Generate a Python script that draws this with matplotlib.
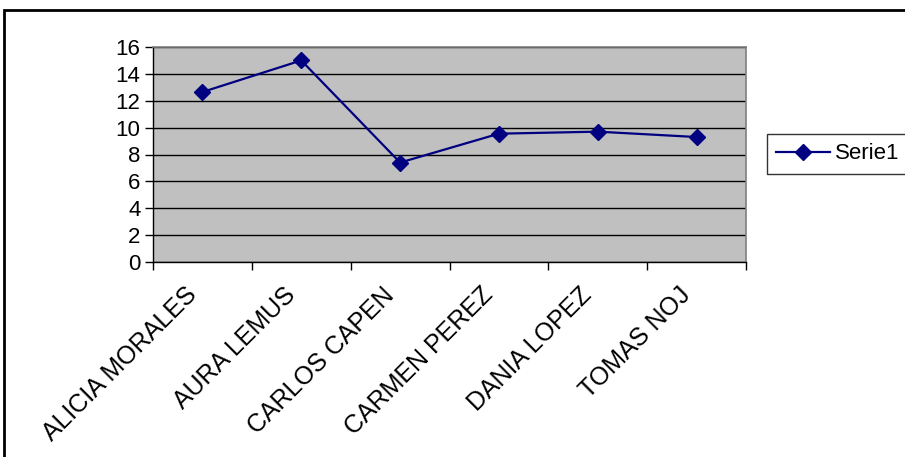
import matplotlib
matplotlib.use("Agg")
import matplotlib.pyplot as plt
from matplotlib.patches import Rectangle
import numpy as np

# Scores per student
students = ["ALICIA MORALES", "AURA LEMUS", "CARLOS CAPEN",
            "CARMEN PEREZ", "DANIA LOPEZ", "TOMAS NOJ"]
serie1 = [12.65, 15.0, 7.4, 9.55, 9.7, 9.3]
yticks = [0, 2, 4, 6, 8, 10, 12, 14, 16]
series_name = "Serie1"

W, H = 905, 457
fig = plt.figure(figsize=(W / 100, H / 100), dpi=100)
plt.rcParams["font.family"] = ["Liberation Sans", "DejaVu Sans"]

# outer chart frame (runs past the right and bottom edges)
fig.patches.append(Rectangle((4 / W, -0.2), 1.2, 1.2 - 10 / H, transform=fig.transFigure,
                             fill=False, edgecolor="black", linewidth=2, zorder=0))

ax = fig.add_axes([153 / W, 1 - 262 / H, (746 - 153) / W, (262 - 47) / H])
ax.set_facecolor("#C0C0C0")

x = np.arange(len(students))
ax.plot(x, serie1, color="#000080", linewidth=1.6, marker="D",
        markersize=8, markerfacecolor="#000080", markeredgecolor="#000080",
        label=series_name, zorder=3)

ax.set_xlim(-0.5, len(students) - 0.5)
ax.set_ylim(0, 16)
ax.set_yticks(yticks)
ax.set_yticklabels([str(v) for v in yticks], fontsize=16)
ax.yaxis.grid(True, color="black", linewidth=1.0)
ax.set_axisbelow(True)

# category boundaries carry the tick marks, names sit centred between them
ax.set_xticks(np.arange(-0.5, len(students), 1.0))
ax.set_xticklabels([])
for xi, name in zip(x, students):
    ax.annotate(name, xy=(xi, 0), xycoords=("data", "axes fraction"),
                xytext=(-13, -15), textcoords="offset points",
                rotation=45, ha="right", va="top", rotation_mode="anchor",
                fontsize=18, annotation_clip=False)
ax.tick_params(axis="x", which="major", length=6, width=1, direction="out", color="black")
ax.tick_params(axis="y", length=6, width=1, direction="out", color="black", pad=3)

for side in ("top", "right"):
    ax.spines[side].set_color("#808080")
    ax.spines[side].set_linewidth(1.2)
for side in ("left", "bottom"):
    ax.spines[side].set_color("black")
    ax.spines[side].set_linewidth(1.0)

leg = fig.legend(loc="upper left", bbox_to_anchor=(767 / W, 1 - 134 / H),
                 frameon=True, fancybox=False, edgecolor="black", fontsize=16,
                 handlelength=2.4, borderpad=0.42, handletextpad=0.25,
                 borderaxespad=0)
leg.get_frame().set_linewidth(1.0)

fig.savefig("out.png", dpi=100)
